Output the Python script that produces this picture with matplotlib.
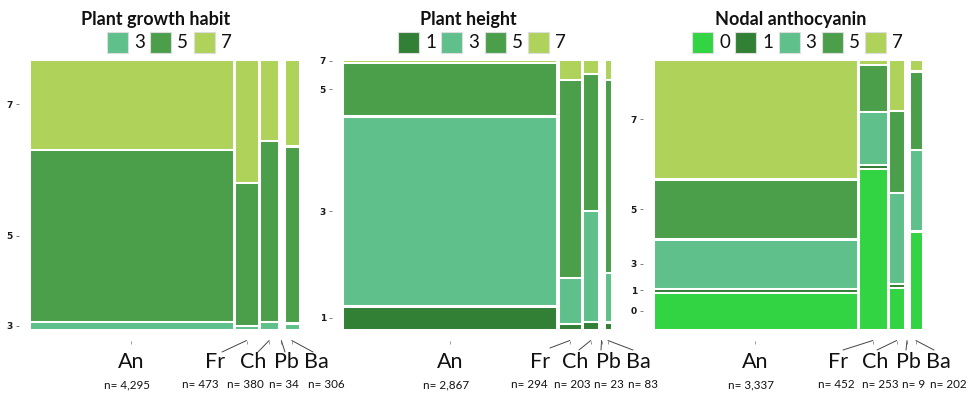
import numpy as np
import matplotlib
matplotlib.use("Agg")
import matplotlib.pyplot as plt
from matplotlib.patches import Rectangle, ConnectionPatch

plt.rcParams["font.family"] = ["Lato", "DejaVu Sans"]

W, H, DPI = 974, 393, 100

# ---- data -------------------------------------------------------------
groups = ["An", "Fr", "Ch", "Pb", "Ba"]

habit_title = "Plant growth habit"
habit_levels = ["3", "5", "7"]
habit_counts = [
    [107, 2753, 1435],   # An
    [5, 252, 216],       # Fr
    [10, 256, 114],      # Ch
    [2, 15, 17],         # Pb
    [6, 202, 98],        # Ba
]

height_title = "Plant height"
height_levels = ["1", "3", "5", "7"]
height_counts = [
    [240, 2042, 565, 20],
    [5, 50, 218, 21],
    [5, 84, 104, 10],
    [0, 11, 12, 0],
    [2, 15, 60, 6],
]

antho_title = "Nodal anthocyanin"
antho_levels = ["0", "1", "3", "5", "7"]
antho_counts = [
    [457, 28, 612, 740, 1500],
    [274, 5, 88, 78, 7],
    [39, 3, 86, 77, 48],
    [1, 0, 1, 2, 5],
    [74, 0, 61, 59, 8],
]

level_colors = {"0": "#33d443", "1": "#327f36", "3": "#5fc08b",
                "5": "#4b9f4b", "7": "#afd35a"}

# ---- layout (pixels) --------------------------------------------------
panels = [
    dict(title=habit_title, levels=habit_levels, counts=habit_counts,
         x0=30, x1=299, title_x=156, legend_x=107,
         name_x=[215, 253, 286, 316], n_x=[200, 245, 284, 326],
         lead_end=[(222, 352), (258, 352), (285, 352), (313, 352)]),
    dict(title=height_title, levels=height_levels, counts=height_counts,
         x0=343, x1=611, title_x=468, legend_x=398,
         name_x=[540, 575, 608, 638], n_x=[529, 572, 609, 643],
         lead_end=[(550, 348), (579, 350), (601, 350), (633, 350)]),
    dict(title=antho_title, levels=antho_levels, counts=antho_counts,
         x0=654, x1=922, title_x=791, legend_x=692,
         name_x=[838, 875, 908, 938], n_x=[836, 880, 914, 948],
         lead_end=[(843, 350), (877, 350), (906, 350), (934, 350)]),
]
Y_TOP, Y_BOT = 60, 329
PAD = 11.5
LEG_STEP = 43.3
SQ = 21


def mosaic_rects(counts, xgap=0.009, ygap=0.005):
    counts = np.asarray(counts, float)
    totals = counts.sum(axis=1)
    ncol, nlev = counts.shape
    widths = totals / totals.sum() * (1 - xgap * (ncol - 1))
    out = []
    x = 0.0
    for i in range(ncol):
        hs = counts[i] / totals[i] * (1 - ygap * (nlev - 1))
        y = 0.0
        col = []
        for j in range(nlev):
            col.append((x, y, widths[i], hs[j]))
            y += hs[j] + ygap
        out.append(col)
        x += widths[i] + xgap
    return out, totals


fig = plt.figure(figsize=(W / DPI, H / DPI), dpi=DPI)

for p in panels:
    x0, x1 = p["x0"], p["x1"]
    dw, dh = x1 - x0, Y_BOT - Y_TOP
    ax = fig.add_axes([(x0 - PAD) / W, 1 - (Y_BOT + PAD) / H,
                       (dw + 2 * PAD) / W, (dh + 2 * PAD) / H])
    mx, my = PAD / dw, PAD / dh
    ax.set_xlim(-mx, 1 + mx)
    ax.set_ylim(-my, 1 + my)
    for s in ax.spines.values():
        s.set_visible(False)

    rects, totals = mosaic_rects(p["counts"])
    for col in rects:
        for lev, (rx, ry, rw, rh) in zip(p["levels"], col):
            ax.add_patch(Rectangle((rx, ry), rw, rh, facecolor=level_colors[lev],
                                   edgecolor="white", linewidth=0.75))

    # y ticks at the first column's level midpoints
    first = rects[0]
    ax.set_yticks([ry + rh / 2 for (_, ry, _, rh) in first])
    ax.set_yticklabels(p["levels"], fontweight="bold", fontsize=6.5,
                       family="DejaVu Sans", color="#1a1a1a")
    centers = [col[0][0] + col[0][2] / 2 for col in rects]
    ax.set_xticks(centers)
    ax.set_xticklabels([])
    ax.tick_params(axis="y", length=2.5, width=0.6, color="#666666", pad=1.5)
    ax.tick_params(axis="x", length=2, width=0.6, color="#888888")

    # group labels
    an_px = x0 + centers[0] * dw
    fig.text(an_px / W, 1 - 368 / H, groups[0], ha="center", va="baseline",
             fontsize=15.5, color="#111111")
    fig.text((an_px - 4) / W, 1 - 388 / H, f"n= {int(totals[0]):,}", ha="center",
             va="baseline", fontsize=8.4, color="#111111")
    for k in range(1, len(groups)):
        fig.text(p["name_x"][k - 1] / W, 1 - 368 / H, groups[k], ha="center",
                 va="baseline", fontsize=15.5, color="#111111")
        fig.text(p["n_x"][k - 1] / W, 1 - 388 / H, f"n= {int(totals[k]):,}",
                 ha="center", va="baseline", fontsize=8.4, color="#111111")
        ex, ey = p["lead_end"][k - 1]
        con = ConnectionPatch(xyA=(centers[k], -my), coordsA=ax.transData,
                              xyB=(ex, H - ey), coordsB="figure pixels",
                              color="#444444", linewidth=0.7)
        fig.add_artist(con)

    # title and legend
    fig.text(p["title_x"] / W, 1 - 19 / H, p["title"], ha="center",
             va="center", fontsize=13, fontweight="bold", color="#111111")
    for k, lev in enumerate(p["levels"]):
        lx = p["legend_x"] + k * LEG_STEP
        fig.add_artist(Rectangle((lx / W, 1 - 53 / H), SQ / W, SQ / H,
                                 transform=fig.transFigure,
                                 facecolor=level_colors[lev],
                                 edgecolor="#dddddd", linewidth=0.8))
        fig.text((lx + SQ + 6) / W, 1 - 43 / H, lev, ha="left", va="center",
                 fontsize=13.5, color="#111111")

fig.savefig("out.png", dpi=DPI, facecolor="white")
